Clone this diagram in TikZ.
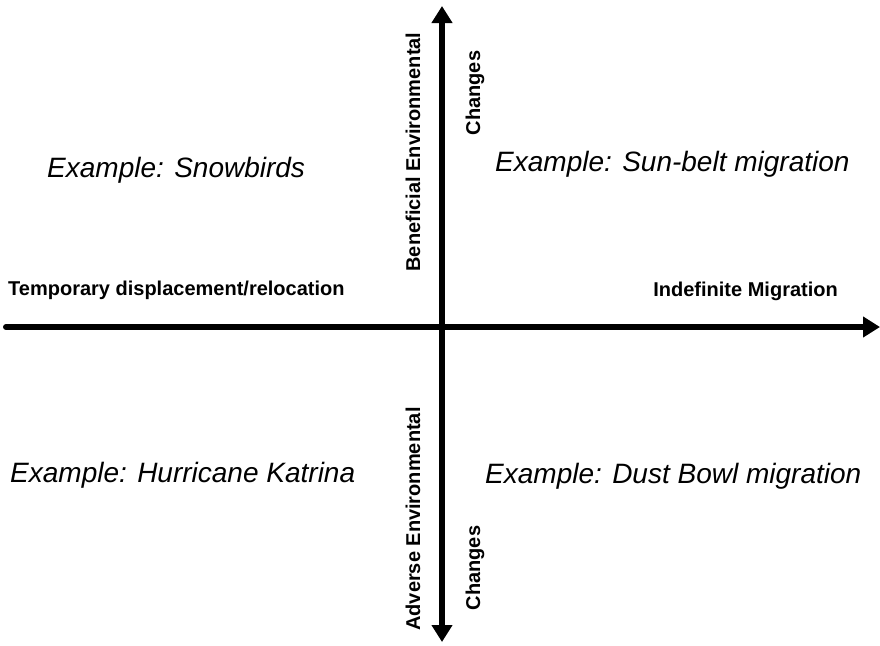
\documentclass[tikz,border=0pt]{standalone}
\usepackage{fontspec}
\setmainfont{Liberation Sans}
\usetikzlibrary{arrows.meta}

\begin{document}
\begin{tikzpicture}[x=1pt,y=-1pt,
  >={Triangle[length=17pt,width=20pt]},
  axis/.style={line width=6pt},
  sidelabel/.style={inner sep=0pt, font=\fontsize{20}{24}\selectfont\bfseries},
  example/.style={inner sep=0pt, anchor=base west, font=\fontsize{28}{32}\selectfont\itshape}]
\useasboundingbox (0,0) rectangle (880,645);

%axes
\coordinate (west) at (6,327);
\coordinate (east) at (880,327);
\coordinate (north) at (442,6);
\coordinate (south) at (442,642);
\draw[axis, line cap=round, ->] (west) -- (east);
\draw[axis, <->] (south) -- (north);

%axis labels
\node[sidelabel, anchor=base west] (temp) at (8,295) {Temporary displacement/relocation};
\node[sidelabel, anchor=base east] (indef) at (838,296) {Indefinite Migration};
\node[sidelabel, rotate=90, anchor=base] (benef) at (420,152) {Beneficial Environmental};
\node[sidelabel, rotate=90, anchor=base] (benefc) at (480,93) {Changes};
\node[sidelabel, rotate=90, anchor=base] (adv) at (420,519) {Adverse Environmental};
\node[sidelabel, rotate=90, anchor=base] (advc) at (480,568) {Changes};

%quadrants
\node[example] (snow) at (47,177) {Example: Snowbirds};
\node[example] (sun) at (495,171) {Example: Sun-belt migration};
\node[example] (katrina) at (10,482) {Example: Hurricane Katrina};
\node[example] (dust) at (485,483) {Example: Dust Bowl migration};
\end{tikzpicture}
\end{document}
